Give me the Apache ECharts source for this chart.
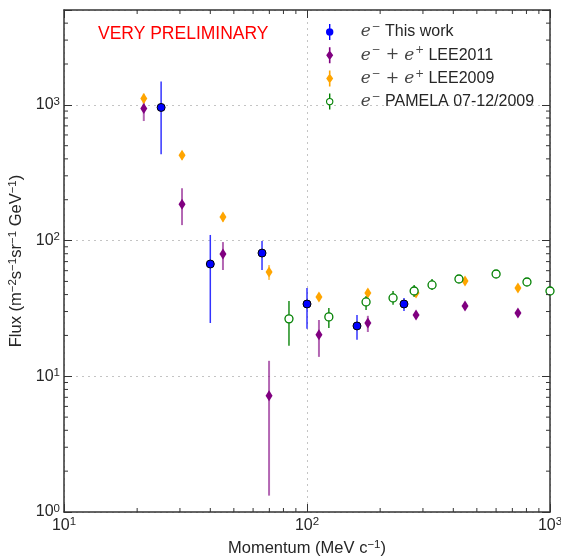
<!DOCTYPE html>
<html>
<head>
<meta charset="utf-8">
<script src="https://cdn.jsdelivr.net/npm/echarts@6/dist/echarts.min.js"></script>
<style>
  html, body { margin: 0; padding: 0; background: #fff; }
  #chart { width: 561px; height: 556px; }
</style>
</head>
<body>
<div id="chart"></div>
<script>
// e- this work
const workX  = [25.1, 40, 65.3, 100, 160.6, 250.7];
const workY  = [957, 67.2, 80.9, 34.1, 23.5, 34.1];
const workLo = [433, 24.7, 60.7, 22.4, 18.6, 30.3];
const workHi = [1489, 110, 99.2, 44.7, 28.3, 37.8];

// e- + e+ LEE2011 / LEE2009 share the same momentum bins
const leeX    = [21.3, 30.6, 45.1, 69.8, 112, 178, 281, 447, 738];
const lee11Y  = [942, 185, 79.6, 7.19, 20.2, 24.7, 28.3, 33.0, 29.3];
const lee11Lo = [760, 130, 60.7, 1.32, 13.9, 21.2, 26.5, 31, 27.5];
const lee11Hi = [1160, 243, 97.5, 13.0, 26.0, 27.9, 30.2, 35, 31.2];
const lee09Y  = [1116, 425, 149, 58.7, 38.4, 41.1, 41.1, 50.4, 44.8];
const lee09Lo = [1030, 395, 138, 51.3, 36, 38.5, 38.5, 47.5, 42];
const lee09Hi = [1210, 455, 160, 66, 41, 43.8, 43.8, 53.5, 47.8];

// e- PAMELA 07-12/2009
const pamelaX  = [84.3, 123, 175, 226, 276, 327, 422, 600, 804, 1000];
const pamelaY  = [26.5, 27.4, 35.3, 37.8, 42.5, 47.1, 52.1, 56.7, 49.5, 42.5];
const pamelaLo = [16.8, 22.7, 30.8, 33.6, 38.4, 43.3, 50, 55, 47.5, 40.5];
const pamelaHi = [35.9, 31.9, 39.1, 42.5, 47.1, 52.1, 54.3, 58.5, 51.5, 44.5];

const legendNames = {
    work: '{m|e}{s|−} {t|This work}',
    lee11: '{m|e}{s|−}{o| + }{m|e}{s|+} {t|LEE2011}',
    lee09: '{m|e}{s|−}{o| + }{m|e}{s|+} {t|LEE2009}',
    pamela: '{m|e}{s|−} {t|PAMELA 07-12/2009}',
};

const TXT = '#262626';
const FONT = 'Liberation Sans';

// minor tick values (2..9 per decade)
const xMinor = [];
[10, 100].forEach(d => { for (let k = 2; k <= 9; k++) xMinor.push(k * d); });
const yMinor = [];
[1, 10, 100, 1000].forEach(d => { for (let k = 2; k <= 9; k++) if (k * d < 5000) yMinor.push(k * d); });

const zip = (xs, ys) => xs.map((x, i) => [x, ys[i]]);

function errorBars(xs, lo, hi, color, width, opacity) {
    return {
        type: 'custom',
        silent: true,
        clip: true,
        z: 2,
        data: xs.map((x, i) => [x, lo[i], hi[i]]),
        encode: { x: 0, y: [1, 2] },
        renderItem: (params, api) => {
            const a = api.coord([api.value(0), api.value(1)]);
            const b = api.coord([api.value(0), api.value(2)]);
            return {
                type: 'line',
                shape: { x1: a[0], y1: a[1], x2: b[0], y2: b[1] },
                style: { stroke: color, lineWidth: width, opacity: opacity },
            };
        },
    };
}

function tickLine(x1, y1, x2, y2) {
    return { type: 'line', shape: { x1, y1, x2, y2 }, style: { stroke: '#333', lineWidth: 1 } };
}

const powLabel = v => {
    const e = Math.log10(v);
    if (Math.abs(e - Math.round(e)) > 1e-6) return '';
    return '{b|10}{s|' + Math.round(e) + '}';
};
const labelRich = {
    b: { fontSize: 16, color: TXT, fontFamily: FONT },
    s: { fontSize: 11.5, color: TXT, fontFamily: FONT, padding: [0, 0, 7, 0] },
};
const nameRich = {
    t: { fontSize: 16.5, color: TXT, fontFamily: FONT },
    s: { fontSize: 11.5, color: TXT, fontFamily: FONT, padding: [0, 0, 7, 0] },
};
const frameLine = { show: true, onZero: false, lineStyle: { color: '#333', width: 1.5 } };
const majorTick = { show: true, inside: true, length: 8, lineStyle: { color: '#333' } };
const gridDots = { show: true, lineStyle: { type: [2, 4], color: '#c4c4c4', width: 1 } };

const chart = echarts.init(document.getElementById('chart'), null, { renderer: 'canvas' });

chart.setOption({
    animation: false,
    backgroundColor: '#fff',
    grid: { left: 64, right: 11, top: 10, bottom: 44, containLabel: false, outerBoundsMode: 'none' },
    xAxis: [{
        type: 'log', min: 10, max: 1000, position: 'bottom',
        axisLine: frameLine, axisTick: majorTick, splitLine: gridDots,
        axisLabel: { formatter: powLabel, rich: labelRich, margin: 4 },
        name: '{t|Momentum (MeV c}{s|−1}{t|)}',
        nameLocation: 'middle', nameGap: 27,
        nameTextStyle: { rich: nameRich },
    }, {
        type: 'log', min: 10, max: 1000, position: 'top',
        axisLine: frameLine, axisTick: majorTick,
        axisLabel: { show: false }, splitLine: { show: false },
    }],
    yAxis: [{
        type: 'log', min: 1, max: 5000, position: 'left',
        axisLine: frameLine, axisTick: majorTick, splitLine: gridDots,
        axisLabel: { formatter: powLabel, rich: labelRich, margin: 4 },
        name: '{t|Flux (m}{s|−2}{t|s}{s|−1}{t|sr}{s|−1}{t| GeV}{s|−1}{t|)}',
        nameLocation: 'middle', nameGap: 34, nameRotate: 90,
        nameTextStyle: { rich: nameRich },
    }, {
        type: 'log', min: 1, max: 5000, position: 'right',
        axisLine: frameLine, axisTick: majorTick,
        axisLabel: { show: false }, splitLine: { show: false },
    }],
    legend: {
        orient: 'vertical',
        left: 321, top: 17,
        itemWidth: 52, itemHeight: 16, itemGap: 4.7,
        formatter: name => legendNames[name],
        textStyle: {
            color: TXT, fontSize: 16, fontFamily: FONT,
            rich: {
                m: { fontSize: 17, fontFamily: 'DejaVu Serif', fontStyle: 'italic', color: '#444' },
                s: { fontSize: 10.5, fontFamily: 'DejaVu Serif', color: '#444', padding: [0, 0, 9, 1] },
                o: { fontSize: 16, fontFamily: 'DejaVu Serif', color: '#444' },
                t: { fontSize: 16, fontFamily: FONT, color: TXT },
            },
        },
        data: [
            { name: 'work', icon: 'path://M3.3,0H4.7V16H3.3Z M7.7,8A3.7,3.7 0 1,1 0.3,8A3.7,3.7 0 1,1 7.7,8Z',
              itemStyle: { color: '#0000ff', borderWidth: 0 } },
            { name: 'lee11', icon: 'path://M2.7,0H4.3V16H2.7Z M3.5,3L7,8L3.5,13L0,8Z',
              itemStyle: { color: '#800080', borderWidth: 0 } },
            { name: 'lee09', icon: 'path://M2.7,0H4.3V16H2.7Z M3.5,3L7,8L3.5,13L0,8Z',
              itemStyle: { color: '#ffa500', borderWidth: 0 } },
            { name: 'pamela', icon: 'path://M3.3,0H4.7V4.5H3.3Z M3.3,11.5H4.7V16H3.3Z M7.7,8A3.7,3.7 0 1,1 0.3,8A3.7,3.7 0 1,1 7.7,8Z M6.6,8A2.6,2.6 0 1,0 1.4,8A2.6,2.6 0 1,0 6.6,8Z',
              itemStyle: { color: '#008000', borderWidth: 0 } },
        ],
    },
    graphic: [{
        type: 'text', left: 98, top: 25,
        style: { text: 'VERY PRELIMINARY', fill: '#ff0000', fontSize: 17.5, fontFamily: FONT },
    }],
    series: [
        // minor ticks, bottom/top
        {
            type: 'custom', silent: true, z: 5, clip: false,
            data: xMinor.map(v => [v, 1]),
            renderItem: (params, api) => {
                const cs = params.coordSys;
                const px = api.coord([api.value(0), 1])[0];
                const b = cs.y + cs.height;
                return { type: 'group', children: [tickLine(px, b, px, b - 4), tickLine(px, cs.y, px, cs.y + 4)] };
            },
        },
        // minor ticks, left/right
        {
            type: 'custom', silent: true, z: 5, clip: false,
            data: yMinor.map(v => [10, v]),
            renderItem: (params, api) => {
                const cs = params.coordSys;
                const py = api.coord([10, api.value(1)])[1];
                const r = cs.x + cs.width;
                return { type: 'group', children: [tickLine(cs.x, py, cs.x + 4, py), tickLine(r, py, r - 4, py)] };
            },
        },
        errorBars(workX, workLo, workHi, '#0000ff', 1.5, 0.8),
        errorBars(leeX, lee11Lo, lee11Hi, '#800080', 2, 0.6),
        errorBars(leeX, lee09Lo, lee09Hi, '#ffa500', 2, 0.6),
        errorBars(pamelaX, pamelaLo, pamelaHi, '#008000', 1.5, 0.9),
        {
            name: 'work', type: 'scatter', z: 4,
            data: zip(workX, workY),
            symbol: 'circle', symbolSize: 8,
            itemStyle: { color: '#0000ff', borderColor: '#000', borderWidth: 1, opacity: 1 },
            emphasis: { disabled: true },
        },
        {
            name: 'lee11', type: 'scatter', z: 3,
            data: zip(leeX, lee11Y),
            symbol: 'diamond', symbolSize: [7, 11],
            itemStyle: { color: '#800080', opacity: 1 },
            emphasis: { disabled: true },
        },
        {
            name: 'lee09', type: 'scatter', z: 3,
            data: zip(leeX, lee09Y),
            symbol: 'diamond', symbolSize: [7, 11],
            itemStyle: { color: '#ffa500', opacity: 1 },
            emphasis: { disabled: true },
        },
        {
            name: 'pamela', type: 'scatter', z: 3,
            data: zip(pamelaX, pamelaY),
            symbol: 'circle', symbolSize: 8,
            itemStyle: { color: '#fff', borderColor: '#008000', borderWidth: 1.3, opacity: 1 },
            emphasis: { disabled: true },
        },
    ],
});

window.addEventListener('resize', () => chart.resize());
</script>
</body>
</html>
